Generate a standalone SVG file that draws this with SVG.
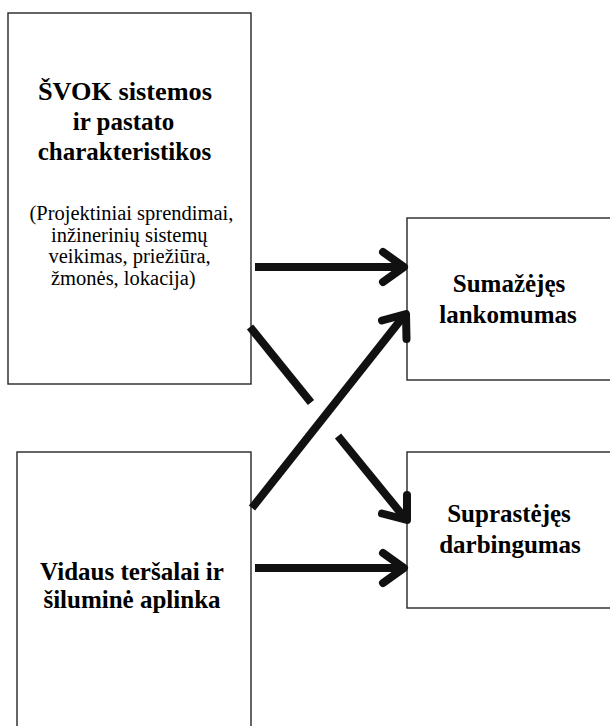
<svg xmlns="http://www.w3.org/2000/svg" width="610" height="726" viewBox="0 0 610 726">
<style>
.box{fill:#fff;stroke:#262626;stroke-width:1.4}
.t{font-family:'Liberation Serif','Times New Roman',Times,serif;fill:#000}
.b{font-weight:bold;font-size:25px}
.r{font-size:20.5px}
.ln{stroke:#111;stroke-width:8;fill:none;stroke-linecap:butt}
.hd{stroke:#111;stroke-width:8;fill:none;stroke-linecap:round;stroke-linejoin:round}
</style>
<rect width="610" height="726" fill="#fff"/>
<g id="node-svok">
<rect class="box" x="8" y="13" width="243" height="371"/>
<text class="t b" text-anchor="middle" x="125" y="100" textLength="174" lengthAdjust="spacingAndGlyphs">ŠVOK sistemos</text>
<text class="t b" text-anchor="middle" x="123.5" y="130">ir pastato</text>
<text class="t b" text-anchor="middle" x="124.5" y="160">charakteristikos</text>
<text class="t r" x="29.5" y="219.5">(Projektiniai sprendimai,</text>
<text class="t r" x="51" y="241.5">inžinerinių sistemų</text>
<text class="t r" x="48.5" y="263">veikimas, priežiūra,</text>
<text class="t r" x="51" y="284.5">žmonės, lokacija)</text>
</g>
<g id="node-tersalai">
<rect class="box" x="17" y="452" width="234" height="290"/>
<text class="t b" text-anchor="middle" x="132" y="580">Vidaus teršalai ir</text>
<text class="t b" text-anchor="middle" x="132" y="608">šiluminė aplinka</text>
</g>
<g id="node-lankomumas">
<rect class="box" x="407" y="218" width="210" height="162"/>
<text class="t b" text-anchor="middle" x="509" y="292">Sumažėjęs</text>
<text class="t b" text-anchor="middle" x="508" y="323">lankomumas</text>
</g>
<g id="node-darbingumas">
<rect class="box" x="407" y="452" width="210" height="156"/>
<text class="t b" text-anchor="middle" x="509" y="522">Suprastėjęs</text>
<text class="t b" text-anchor="middle" x="510" y="553">darbingumas</text>
</g>
<g id="connectors">
<line class="ln" x1="255" y1="267" x2="401" y2="267"/>
<polyline class="hd" points="383,252 404,267 383,282"/>
<line class="ln" x1="255" y1="568" x2="401" y2="568"/>
<polyline class="hd" points="383,553 404,568 383,583"/>
<line class="ln" x1="252" y1="508" x2="403" y2="317"/>
<polyline class="hd" points="382,320.5 406,314 406.5,339"/>
<line class="ln" x1="250" y1="327" x2="311" y2="402.5"/>
<line class="ln" x1="338" y1="436" x2="404" y2="517"/>
<polyline class="hd" points="407,495 407,520 382,513.5"/>
</g>
</svg>
